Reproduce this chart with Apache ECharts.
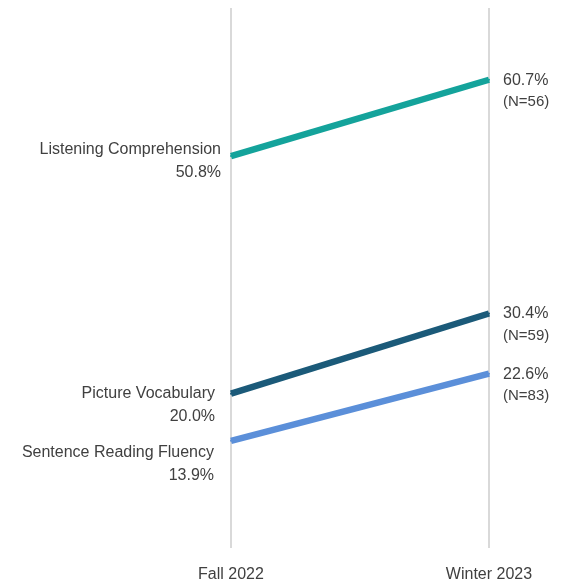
<!DOCTYPE html>
<html>
<head>
<meta charset="utf-8">
<script src="https://cdn.jsdelivr.net/npm/echarts@6/dist/echarts.min.js"></script>
<style>
  html, body { margin: 0; padding: 0; background: #fff; }
  #chart { width: 561px; height: 586px; }
</style>
</head>
<body>
<div id="chart"></div>
<script>
const periods = ["Fall 2022", "Winter 2023"];
const seriesNames = ["Listening Comprehension", "Picture Vocabulary", "Sentence Reading Fluency"];
const fallValues = [50.8, 20.0, 13.9];
const winterValues = [60.7, 30.4, 22.6];
const winterN = [56, 59, 83];
const colors = ["#14a39b", "#1b5a79", "#5b8fd9"];
// label nudges so the stacked labels don't collide
const leftOffsets = [[0, 5], [0, 11], [0, 23]];
const leftDistances = [9, 15, 16];

const chart = echarts.init(document.getElementById("chart"));

const series = seriesNames.map((name, i) => ({
  name: name,
  type: "line",
  symbol: "circle",
  symbolSize: 2,
  showSymbol: true,
  itemStyle: { color: colors[i] },
  lineStyle: { width: 6.5, color: colors[i], cap: "butt" },
  label: {
    show: true,
    color: "#404040",
    fontSize: 16,
    formatter: (p) => p.dataIndex === 0
      ? name + "\n" + fallValues[i].toFixed(1) + "%"
      : "{v|" + winterValues[i].toFixed(1) + "%}\n{n|(N=" + winterN[i] + ")}",
    rich: {
      v: { fontSize: 16, color: "#404040", lineHeight: 22 },
      n: { fontSize: 15, color: "#404040", lineHeight: 21 }
    }
  },
  data: [
    {
      value: fallValues[i],
      label: {
        position: "left",
        distance: leftDistances[i],
        offset: leftOffsets[i],
        align: "right",
        lineHeight: 23
      }
    },
    {
      value: winterValues[i],
      label: {
        position: "right",
        distance: 13,
        offset: [0, 11],
        align: "left"
      }
    }
  ]
}));

chart.setOption({
  animation: false,
  textStyle: { fontFamily: "Liberation Sans, Arial, sans-serif" },
  grid: { left: 231, right: 72, top: 8, bottom: 38 },
  xAxis: {
    type: "category",
    data: periods,
    boundaryGap: false,
    axisLine: { show: false },
    axisTick: { show: false },
    axisLabel: { fontSize: 16, color: "#404040", margin: 19, interval: 0 },
    splitLine: { show: true, lineStyle: { color: "#d9d9d9", width: 2 } }
  },
  yAxis: {
    type: "value",
    min: 0,
    max: 70,
    show: false
  },
  series: series
});
</script>
</body>
</html>
